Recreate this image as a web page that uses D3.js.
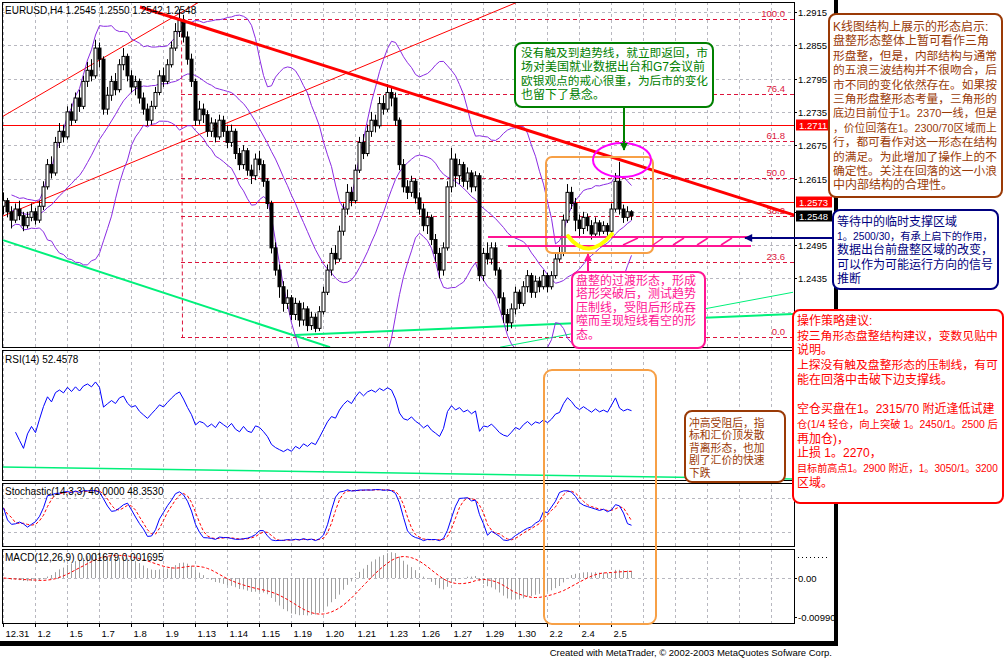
<!DOCTYPE html>
<html><head><meta charset="utf-8">
<script src="https://cdn.jsdelivr.net/npm/d3@7"></script>
<style>body{margin:0;background:#fff;} svg{display:block;font-family:"Liberation Sans",Arial,sans-serif;}</style>
</head><body>
<svg id="c" width="1005" height="661"></svg>
<script>
// ---------- DATA (prices in pips above 1.0000, e.g. 2548 -> 1.2548) ----------
const firstOpen = 2565;
const closes = [2575,2555,2540,2560,2548,2530,2545,2555,2540,2565,
 2600,2640,2625,2680,2700,2690,2735,2720,
 2760,2745,2790,2810,2800,2850,2830,2740,
 2765,2790,2775,2820,2835,2800,2780,2790,
 2760,2740,2720,2745,2770,2800,2790,2820,
 2850,2880,2900,2870,2830,2790,
 2720,2740,2730,2700,2715,2690,2720,2700,
 2680,2700,2660,2640,2665,2630,2620,2650,
 2640,2610,2570,2490,2450,2420,2390,2400,
 2370,2390,2360,2380,2350,2365,2345,2375,
 2410,2450,2480,2470,2520,2560,2590,2575,
 2630,2680,2660,2700,2720,2710,2750,2740,
 2770,2760,2720,2640,2600,2590,2610,2580,
 2560,2530,2545,2505,2480,2450,2490,2600,
 2650,2620,2640,2610,2625,2600,2620,2440,
 2480,2470,2490,2450,2400,2370,2355,2380,
 2410,2390,2420,2440,2410,2430,2420,2440,
 2420,2440,2470,2480,2540,2590,2570,2540,
 2525,2545,2530,2515,2535,2520,2530,2520,
 2560,2610,2560,2545,2555,2548];
const highs = [2590,2580,2565,2570,2575,2555,2555,2570,2562,2575,
 2610,2650,2655,2690,2715,2712,2745,2750,
 2770,2775,2800,2825,2830,2865,2860,2835,
 2780,2800,2805,2830,2850,2840,2810,2800,
 2795,2770,2750,2755,2780,2810,2815,2830,
 2862,2895,2920,2910,2880,2840,
 2795,2755,2750,2738,2725,2722,2730,2728,
 2710,2712,2705,2670,2675,2670,2640,2660,
 2665,2648,2615,2575,2500,2460,2430,2415,
 2405,2400,2395,2392,2385,2375,2372,2385,
 2420,2460,2490,2495,2530,2570,2605,2600,
 2640,2690,2695,2712,2735,2730,2762,2765,
 2785,2780,2770,2725,2650,2612,2620,2615,
 2590,2570,2555,2550,2515,2490,2500,2610,
 2670,2660,2650,2645,2635,2630,2628,2625,
 2490,2500,2500,2500,2455,2410,2380,2390,
 2420,2415,2430,2450,2445,2440,2438,2450,
 2445,2448,2480,2495,2550,2605,2600,2580,
 2550,2555,2552,2540,2545,2540,2538,2535,
 2570,2625,2645,2568,2565,2558];
const lows = [2550,2545,2525,2535,2540,2520,2525,2538,2532,2535,
 2558,2595,2615,2620,2670,2680,2685,2710,
 2715,2735,2740,2780,2790,2795,2815,2730,
 2730,2755,2765,2770,2810,2790,2770,2765,
 2750,2730,2710,2712,2740,2765,2780,2785,
 2815,2845,2870,2860,2820,2780,
 2710,2712,2715,2690,2690,2680,2685,2690,
 2670,2672,2650,2630,2632,2620,2605,2612,
 2630,2600,2560,2480,2440,2400,2375,2380,
 2360,2360,2348,2350,2340,2342,2338,2340,
 2370,2405,2440,2460,2465,2512,2550,2565,
 2570,2625,2650,2655,2690,2698,2705,2730,
 2735,2745,2710,2630,2590,2578,2582,2570,
 2550,2520,2515,2495,2465,2435,2440,2485,
 2590,2600,2605,2600,2595,2590,2592,2430,
 2430,2460,2460,2440,2390,2355,2340,2345,
 2370,2380,2385,2410,2400,2400,2410,2415,
 2410,2415,2435,2465,2475,2535,2560,2520,
 2510,2515,2520,2505,2510,2512,2515,2512,
 2515,2555,2550,2535,2538,2540];
const dateLabels = ["12.31","1.2","1.5","1.7","1.8","1.9","1.13","1.14","1.15","1.19","1.20","1.21","1.23","1.26","1.27","1.29","1.30","2.2","2.4","2.5"];
const priceTicks = [1.2915,1.2855,1.2795,1.2735,1.2675,1.2615,1.2555,1.2495,1.2435,1.2375];
const shownPriceLabels = [1.2915,1.2855,1.2795,1.2735,1.2675,1.2615,1.2495,1.2435];
const priceTags = [{v:1.2711,t:"1.2711",bg:"#ff0000"},{v:1.2573,t:"1.2573",bg:"#ff0000"},{v:1.2548,t:"1.2548",bg:"#000000"}];
const hLines = [1.2711,1.2573];
const fibLevels = [0,23.6,38.2,50,61.8,76.4,100];
const fibAnchor = {bar:44.5, high:1.2902, low:1.2329};
// trend lines: [bar1, price1, bar2, price2]
const redTrend = [34.25,1.2924,200,1.2544];
const redChannel = [[-0.75,1.2724,50,1.2937],[-0.75,1.2545,130,1.2937]];
const greenLines = [[0,1.2504,81.75,1.2311],[73,1.2333,197.5,1.2371],[124.25,1.2311,197.5,1.2410]];
const macdTicks = [0.0,-0.0099];
const header = "EURUSD,H4  1.2545 1.2550 1.2542 1.2548";
const rsiLabel = "RSI(14)  52.4578";
const stoLabel = "Stochastic(14,3,3)  40.0000  48.3530";
const macdLabel = "MACD(12,26,9)  0.001679  0.001695";
const credit = "Created with MetaTrader, © 2002-2003 MetaQuotes Sofware Corp.";
const noteTop = ["K线图结构上展示的形态启示:","盘整形态整体上暂可看作三角","形盘整，但是，内部结构与通常","的五浪三波结构并不很吻合，后","市不同的变化依然存在。如果按","三角形盘整形态考量，三角形的","底边目前位于1。2370一线，但是","，价位回落在1。2300/70区域而上","行，都可看作对这一形态在结构","的满足。为此增加了操作上的不","确定性。关注在回落的这一小浪","中内部结构的合理性。"];
const noteSupport = ["等待中的临时支撑区域","1。2500/30，有承上启下的作用，","数据出台前盘整区域的改变，","可以作为可能运行方向的信号","推断"];
const noteStrategy = ["操作策略建议:","按三角形态盘整结构建议，变数见贴中","说明。","上探没有触及盘整形态的压制线，有可","能在回落中击破下边支撑线。","","空仓买盘在1。2315/70 附近逢低试建","仓(1/4 轻仓，向上突破 1。2450/1。2500 后","再加仓)，","止损 1。2270，","目标前高点1。2900 附近，1。3050/1。3200","区域。"];
const noteTrend = ["没有触及到趋势线，就立即返回，市","场对美国就业数据出台和G7会议前","欧银观点的戒心很重，为后市的变化","也留下了悬念。"];
const noteTransition = ["盘整的过渡形态，形成","塔形突破后，测试趋势","压制线，受阻后形成吞","噬而呈现短线看空的形","态。"];
const noteDivergence = ["冲高受阻后，指","标和汇价顶发散","背离形态，也加","剧了汇价的快速","下跌"];

// ---------- derived ----------
const P = v => 1 + v/10000;
const N = closes.length;
const bars = closes.map((c,i)=>({i, o:P(i===0?firstOpen:closes[i-1]), c:P(c), h:P(highs[i]), l:P(lows[i])}));
const C = bars.map(b=>b.c);

const bb = C.map((c,i)=>{const w=C.slice(Math.max(0,i-19),i+1);const m=d3.mean(w);const sd=Math.sqrt(d3.mean(w,v=>(v-m)*(v-m)));return {i,m,u:m+2*sd,l:m-2*sd};}).slice(2);
const rsi=[];{let ag=0,al=0;for(let i=1;i<N;i++){const ch=C[i]-C[i-1];const g=Math.max(ch,0),l=Math.max(-ch,0);if(i<=14){ag=(ag*(i-1)+g)/i;al=(al*(i-1)+l)/i;}else{ag=(ag*13+g)/14;al=(al*13+l)/14;}rsi.push({i,v:al===0?100:100-100/(1+ag/al)});}}
const rsiShown = rsi.filter(d=>d.i>=3);
const LL=[],HH=[];bars.forEach((b,i)=>{const s=Math.max(0,i-13);LL[i]=d3.min(bars.slice(s,i+1),d=>d.l);HH[i]=d3.max(bars.slice(s,i+1),d=>d.h);});
const K=[];for(let i=0;i<N;i++){let a=0,b=0;for(let k=Math.max(0,i-2);k<=i;k++){a+=C[k]-LL[k];b+=HH[k]-LL[k];}K.push(b===0?50:100*a/b);}
const D=K.map((k,i)=>d3.mean(K.slice(Math.max(0,i-2),i+1)));
const macd=[];{let e12=C[0],e26=C[0];for(let i=0;i<N;i++){e12=e12+(2/13)*(C[i]-e12);e26=e26+(2/27)*(C[i]-e26);macd.push(e12-e26);}}
const sig=macd.map((m,i)=>d3.mean(macd.slice(Math.max(0,i-8),i+1)));

// ---------- layout ----------
const svg=d3.select("#c");
const XL=2, XR=794;
const pan={main:[2,347],rsi:[350,480],sto:[483,546],macd:[549,623]};
const X=d3.scaleLinear().domain([0,157]).range([3,631]);
const Y=d3.scaleLinear().domain([1.2315,1.2915]).range([345,12]);
const YR=d3.scaleLinear().domain([0,100]).range([478,352]);
const YS=d3.scaleLinear().domain([0,100]).range([543,487]);
const YM=d3.scaleLinear().domain([-0.0099,0]).range([617,578]);
const grid="#b8b8c0";

const defs=svg.append("defs");
Object.entries(pan).forEach(([k,[t,b]])=>{defs.append("clipPath").attr("id","cp-"+k).append("rect").attr("x",XL).attr("y",t).attr("width",XR-XL).attr("height",b-t);});
function mk(id,color,w,h){defs.append("marker").attr("id",id).attr("viewBox","0 0 10 10").attr("refX",9).attr("refY",5).attr("markerWidth",w).attr("markerHeight",h).attr("orient","auto").append("path").attr("d","M0,0L10,5L0,10z").attr("fill",color);}
mk("arG","#008000",4,4);mk("arN","#000080",5,4);mk("arP","#ff1493",4,4);

const gx=d3.range(0,25).map(k=>Math.round(X(8*k))+0.5).filter(x=>x<XR);
Object.entries(pan).forEach(([k,[t,b]])=>{
  const g=svg.append("g").attr("clip-path",`url(#cp-${k})`);
  g.selectAll("line").data(gx).join("line").attr("x1",d=>d).attr("x2",d=>d).attr("y1",t).attr("y2",b).attr("stroke",grid).attr("stroke-dasharray","3,3");
});
const gm=svg.append("g").attr("clip-path","url(#cp-main)");
gm.selectAll("line.h").data(priceTicks).join("line").attr("class","h").attr("x1",XL).attr("x2",XR).attr("y1",d=>Math.round(Y(d))+0.5).attr("y2",d=>Math.round(Y(d))+0.5).attr("stroke",grid).attr("stroke-dasharray","3,3");

const fy=l=>Math.round(Y(fibAnchor.low+(fibAnchor.high-fibAnchor.low)*l/100))+0.5;
gm.selectAll("line.fib").data(fibLevels).join("line").attr("class","fib").attr("x1",X(fibAnchor.bar)).attr("x2",XR).attr("y1",fy).attr("y2",fy).attr("stroke","#dc143c").attr("stroke-dasharray","4,3");
gm.append("line").attr("x1",X(fibAnchor.bar)+0.5).attr("x2",X(fibAnchor.bar)+1.5).attr("y1",fy(100)).attr("y2",fy(0)).attr("stroke","#dc143c").attr("stroke-dasharray","4,3");
gm.selectAll("text.fib").data(fibLevels).join("text").attr("class","fib").attr("x",785).attr("y",d=>fy(d)-3).attr("text-anchor","end").attr("font-size",9.5).attr("fill","#dc143c").text(d=>d.toFixed(1));

gm.selectAll("line.hr").data(hLines).join("line").attr("class","hr").attr("x1",XL).attr("x2",XR).attr("y1",d=>Math.round(Y(d))+0.5).attr("y2",d=>Math.round(Y(d))+0.5).attr("stroke","#ff0000");

const seg=(s)=>({x1:X(s[0]),y1:Y(s[1]),x2:X(s[2]),y2:Y(s[3])});
redChannel.forEach(s=>{const q=seg(s);gm.append("line").attr("x1",q.x1).attr("y1",q.y1).attr("x2",q.x2).attr("y2",q.y2).attr("stroke","#ff0000");});
greenLines.forEach((s,i)=>{const q=seg(s);gm.append("line").attr("x1",q.x1).attr("y1",q.y1).attr("x2",q.x2).attr("y2",q.y2).attr("stroke","#00f07a").attr("stroke-width",i===2?1:2);});

const bl=k=>d3.line().x(d=>X(d.i)+0.5).y(d=>Y(d[k]));
["u","m","l"].forEach(k=>gm.append("path").attr("d",bl(k)(bb)).attr("fill","none").attr("stroke","#8a2be2").attr("stroke-width",1));

const cg=gm.append("g");
bars.forEach(b=>{
  const x=Math.round(X(b.i))+0.5;
  cg.append("line").attr("x1",x).attr("x2",x).attr("y1",Y(b.h)).attr("y2",Y(b.l)).attr("stroke","#000");
  const top=Y(Math.max(b.o,b.c)),bot=Y(Math.min(b.o,b.c));
  cg.append("rect").attr("x",x-1.5).attr("y",top).attr("width",3).attr("height",Math.max(1,bot-top)).attr("fill",b.c>=b.o?"#fff":"#000").attr("stroke","#000").attr("stroke-width",1);
});

{const q=seg(redTrend);gm.append("line").attr("x1",q.x1).attr("y1",q.y1).attr("x2",q.x2).attr("y2",q.y2).attr("stroke","#ff0000").attr("stroke-width",3);}

const gr=svg.append("g").attr("clip-path","url(#cp-rsi)");
gr.append("line").attr("x1",XL).attr("x2",XR).attr("y1",467).attr("y2",479).attr("stroke","#00f07a").attr("stroke-width",1.5);
gr.append("path").attr("d",d3.line().x(d=>X(d.i)+0.5).y(d=>YR(d.v))(rsiShown)).attr("fill","none").attr("stroke","#0000ff");
const gs=svg.append("g").attr("clip-path","url(#cp-sto)");
[20,80].forEach(v=>gs.append("line").attr("x1",XL).attr("x2",XR).attr("y1",Math.round(YS(v))+0.5).attr("y2",Math.round(YS(v))+0.5).attr("stroke",grid).attr("stroke-dasharray","3,3"));
gs.append("path").attr("d",d3.line().x((d,i)=>X(i)+0.5).y(d=>YS(d))(D)).attr("fill","none").attr("stroke","#ff0000").attr("stroke-dasharray","3,2");
gs.append("path").attr("d",d3.line().x((d,i)=>X(i)+0.5).y(d=>YS(d))(K)).attr("fill","none").attr("stroke","#0000ff");
const gmc=svg.append("g").attr("clip-path","url(#cp-macd)");
gmc.append("line").attr("x1",XL).attr("x2",XR).attr("y1",578.5).attr("y2",578.5).attr("stroke",grid).attr("stroke-dasharray","3,3");
macd.forEach((m,i)=>{const x=Math.round(X(i))+0.5;gmc.append("line").attr("x1",x).attr("x2",x).attr("y1",YM(0)).attr("y2",YM(m)).attr("stroke","#a0a0a0");});
gmc.append("path").attr("d",d3.line().x((d,i)=>X(i)+0.5).y(d=>YM(d))(sig)).attr("fill","none").attr("stroke","#ff0000").attr("stroke-dasharray","3,2");

Object.values(pan).forEach(([t,b])=>svg.append("rect").attr("x",XL+0.5).attr("y",t+0.5).attr("width",XR-XL).attr("height",b-t).attr("fill","none").attr("stroke","#000"));

priceTicks.forEach(v=>{const y=Math.round(Y(v))+0.5;svg.append("line").attr("x1",XR).attr("x2",XR+3).attr("y1",y).attr("y2",y).attr("stroke","#000");});
shownPriceLabels.forEach(v=>{const y=Math.round(Y(v))+0.5;svg.append("text").attr("x",XR+4).attr("y",y+3.5).attr("font-size",9.5).text(v.toFixed(4));});
priceTags.forEach(t=>{const y=Math.round(Y(t.v));svg.append("rect").attr("x",796).attr("y",y-5.5).attr("width",36).attr("height",11).attr("fill",t.bg);svg.append("text").attr("x",799).attr("y",y+3.5).attr("font-size",9.5).attr("fill","#fff").text(t.t);});
macdTicks.forEach(v=>{const y=Math.round(YM(v))+0.5;svg.append("line").attr("x1",XR).attr("x2",XR+3).attr("y1",y).attr("y2",y).attr("stroke","#000");svg.append("text").attr("x",XR+4).attr("y",y+3.5).attr("font-size",9.5).text(v===0?"0.00":v.toFixed(5));});
svg.append("line").attr("x1",798).attr("x2",828).attr("y1",557.5).attr("y2",557.5).attr("stroke","#000").attr("stroke-dasharray","1,3");

dateLabels.forEach((t,k)=>{const x=Math.round(X(8*k))+0.5;svg.append("line").attr("x1",x).attr("x2",x).attr("y1",623).attr("y2",627).attr("stroke","#000");svg.append("text").attr("x",x+2).attr("y",637).attr("font-size",9.5).text(t);});

svg.append("text").attr("x",5).attr("y",14).attr("font-size",10).text(header);
svg.append("text").attr("x",5).attr("y",363).attr("font-size",10).text(rsiLabel);
svg.append("text").attr("x",5).attr("y",495).attr("font-size",10).text(stoLabel);
svg.append("text").attr("x",5).attr("y",561).attr("font-size",10).text(macdLabel);

svg.append("rect").attr("x",0).attr("y",641).attr("width",838).attr("height",5).attr("fill","#000");
svg.append("rect").attr("x",834).attr("y",0).attr("width",4).attr("height",646).attr("fill","#000");
svg.append("text").attr("x",832).attr("y",656).attr("text-anchor","end").attr("font-size",9.5).text(credit);

// ---------- annotations ----------
const an=svg.append("g");
an.append("rect").attr("x",546).attr("y",157).attr("width",107).attr("height",96).attr("rx",6).attr("fill","none").attr("stroke","#f7a046").attr("stroke-width",2);
an.append("rect").attr("x",544).attr("y",370).attr("width",112).attr("height",254).attr("rx",8).attr("fill","none").attr("stroke","#f7a046").attr("stroke-width",2);
an.append("ellipse").attr("cx",622).attr("cy",160).attr("rx",29).attr("ry",17).attr("fill","none").attr("stroke","#ff00ff").attr("stroke-width",2);
an.append("line").attr("x1",488).attr("x2",752).attr("y1",237).attr("y2",237).attr("stroke","#ff1493").attr("stroke-width",2);
an.append("line").attr("x1",508).attr("x2",751).attr("y1",246).attr("y2",246).attr("stroke","#ff1493").attr("stroke-width",2);
[[623,638],[653,663],[673,684],[697,708],[721,732]].forEach(([a,b])=>an.append("line").attr("x1",a).attr("y1",245).attr("x2",b).attr("y2",238).attr("stroke","#ff1493").attr("stroke-width",1.5));
an.append("path").attr("d","M568,236 Q588,262 612,234").attr("fill","none").attr("stroke","#ffff00").attr("stroke-width",4).attr("stroke-linecap","round");
an.append("line").attr("x1",624).attr("y1",107).attr("x2",624).attr("y2",150).attr("stroke","#008000").attr("stroke-width",2).attr("marker-end","url(#arG)");
an.append("line").attr("x1",833).attr("y1",238).attr("x2",745).attr("y2",238).attr("stroke","#000080").attr("stroke-width",2).attr("marker-end","url(#arN)");
an.append("line").attr("x1",588).attr("y1",272).attr("x2",588).attr("y2",254).attr("stroke","#ff1493").attr("stroke-width",2).attr("marker-end","url(#arP)");

function note(lines,x,y,w,h,color,tx,ty,lh,fs){
  an.append("rect").attr("x",x).attr("y",y).attr("width",w).attr("height",h).attr("rx",7).attr("fill","#fff").attr("stroke",color).attr("stroke-width",2);
  lines.forEach((s,i)=>{if(!s) return; const t=an.append("text").attr("x",tx).attr("y",ty+i*lh).attr("font-family","'Liberation Sans','Noto Sans CJK SC',sans-serif").attr("font-size",fs).attr("fill",color).text(s);
    const maxW=x+w-5-tx; const L=t.node().getComputedTextLength(); if(L>maxW) t.attr("font-size",(fs*maxW/L).toFixed(2));});
}
note(noteTop,829,14,173,183,"#9a3a06",833,31,14.4,12);
note(noteSupport,833,210,165,79,"#000080",837,226,14.2,12);
note(noteStrategy,793,310,210,193,"#ff0000",797,325,14.7,12);
note(noteTrend,515,43,198,64,"#008000",521,57,14,12);
note(noteTransition,572,272,133,76,"#ff1493",576,285,13.4,12);
note(noteDivergence,685,411,100,71,"#9a3a06",689,427,12.4,10.8);
</script>
</body></html>
